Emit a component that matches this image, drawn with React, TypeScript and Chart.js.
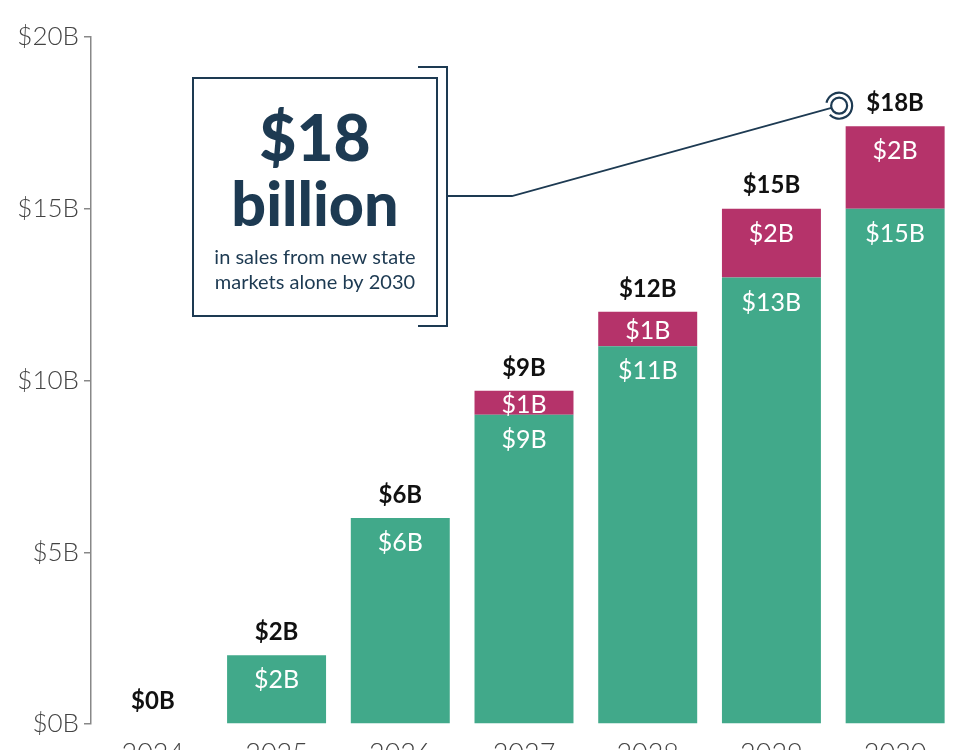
import React, { useEffect, useRef } from "react";
import { Chart, registerables } from "chart.js";
Chart.register(...registerables);

const years = ["2024", "2025", "2026", "2027", "2028", "2029", "2030"];
const existingMarkets = [0, 2, 6, 9, 11, 13, 15];
const newMarkets = [0, 0, 0, 0.7, 1, 2, 2.4];
const existingLabels = ["", "$2B", "$6B", "$9B", "$11B", "$13B", "$15B"];
const newLabels = ["", "", "", "$1B", "$1B", "$2B", "$2B"];
const totalLabels = ["$0B", "$2B", "$6B", "$9B", "$12B", "$15B", "$18B"];
const yMax = 20;
const yStep = 5;
const calloutValue = 18;
const calloutIndex = 6;
const calloutTitle = ["$18", "billion"];
const calloutSub = ["in sales from new state", "markets alone by 2030"];

const GREEN = "#41a98a";
const PINK = "#b5336a";
const NAVY = "#1d3a52";
const FONT = "Lato, 'Open Sans', sans-serif";

const labelPlugin = {
  id: "labels",
  afterDatasetsDraw(chart: any) {
    const ctx = chart.ctx;
    const area = chart.chartArea;
    const xs = chart.scales.x;
    const ys = chart.scales.y;
    const m0 = chart.getDatasetMeta(0);
    const m1 = chart.getDatasetMeta(1);
    ctx.save();
    ctx.textAlign = "center";
    ctx.textBaseline = "middle";
    // inner labels
    const drawInner = (meta: any, labels: string[]) => {
      meta.data.forEach((el: any, i: number) => {
        const t = labels[i];
        if (!t) return;
        const top = Math.min(el.y, el.base);
        const h = Math.abs(el.base - el.y);
        const y = h < 50 ? top + h / 2 + 2 : top + 25;
        ctx.fillStyle = "#ffffff";
        ctx.font = `400 25px ${FONT}`;
        ctx.fillText(t, el.x, y);
      });
    };
    drawInner(m0, existingLabels);
    drawInner(m1, newLabels);
    // totals
    years.forEach((_, i) => {
      const e0 = m0.data[i];
      const e1 = m1.data[i];
      const top = Math.min(e0.y, e1.y, e0.base);
      ctx.fillStyle = "#111111";
      ctx.font = `700 24px ${FONT}`;
      ctx.fillText(totalLabels[i], e0.x, top - 23);
    });

    // callout box
    const bx = area.left + 102;
    const by = area.top + 41;
    const bw = 244;
    const bh = 238;
    ctx.strokeStyle = NAVY;
    ctx.lineWidth = 2;
    ctx.strokeRect(bx, by, bw, bh);
    // bracket
    const brX = bx + bw + 10;
    const brTop = by - 11;
    const brBot = by + bh + 10;
    ctx.beginPath();
    ctx.moveTo(brX - 29, brTop);
    ctx.lineTo(brX, brTop);
    ctx.lineTo(brX, brBot);
    ctx.lineTo(brX - 29, brBot);
    ctx.stroke();
    // leader line
    const midY = by + 118;
    const cx = xs.getPixelForValue(calloutIndex) - 56;
    const cy = ys.getPixelForValue(calloutValue);
    const r = 8;
    const ang = Math.atan2(cy - midY, cx - (brX + 65));
    ctx.lineWidth = 1.8;
    ctx.beginPath();
    ctx.moveTo(brX, midY);
    ctx.lineTo(brX + 65, midY);
    ctx.lineTo(cx - r * Math.cos(ang), cy - r * Math.sin(ang));
    ctx.stroke();
    ctx.lineWidth = 2.2;
    ctx.beginPath();
    ctx.arc(cx, cy, r, 0, Math.PI * 2);
    ctx.stroke();
    ctx.beginPath();
    ctx.arc(cx, cy, 13, Math.PI + ang + 0.5, Math.PI + ang + Math.PI * 2 - 0.5);
    ctx.stroke();

    // callout text
    const tcx = bx + bw / 2;
    ctx.fillStyle = NAVY;
    ctx.font = `900 64px ${FONT}`;
    ctx.fillText(calloutTitle[0], tcx, by + 62);
    ctx.font = `900 61px ${FONT}`;
    ctx.fillText(calloutTitle[1], tcx, by + 128);
    ctx.font = `400 20px ${FONT}`;
    ctx.fillText(calloutSub[0], tcx, by + 180);
    ctx.fillText(calloutSub[1], tcx, by + 205);
    ctx.restore();
  },
};

export default function App() {
  const ref = useRef<HTMLCanvasElement | null>(null);
  useEffect(() => {
    if (!ref.current) return;
    const chart = new Chart(ref.current, {
      type: "bar",
      data: {
        labels: years,
        datasets: [
          {
            label: "Existing",
            data: existingMarkets,
            backgroundColor: GREEN,
            barPercentage: 0.8,
            categoryPercentage: 1,
          },
          {
            label: "New state markets",
            data: newMarkets,
            backgroundColor: PINK,
            barPercentage: 0.8,
            categoryPercentage: 1,
          },
        ],
      },
      options: {
        responsive: false,
        animation: false,
        layout: { padding: { top: 37, right: 3, left: 0, bottom: 0 } },
        plugins: { legend: { display: false }, tooltip: { enabled: false } },
        scales: {
          x: {
            stacked: true,
            grid: { display: false },
            border: { display: false },
            ticks: {
              color: "#444444",
              font: { family: FONT, size: 27, weight: 300 },
              padding: 6,
            },
            afterFit(scale: any) {
              scale.height = 46;
            },
          },
          y: {
            stacked: true,
            min: 0,
            max: yMax,
            ticks: {
              stepSize: yStep,
              color: "#444444",
              font: { family: FONT, size: 26, weight: 300 },
              padding: 5,
              callback: (v: any) => `$${v}B`,
            },
            grid: { drawOnChartArea: false, tickLength: 7, color: "#888888", lineWidth: 1.5 },
            border: { color: "#888888", width: 1.5 },
            afterFit(scale: any) {
              scale.width = 91;
            },
          },
        },
      },
      plugins: [labelPlugin],
    });
    return () => chart.destroy();
  }, []);
  return (
    <div style={{ position: "fixed", left: 0, top: 0, width: 960, height: 750, overflow: "hidden", background: "#fff" }}>
      <canvas ref={ref} width={960} height={770} style={{ display: "block" }} />
    </div>
  );
}
